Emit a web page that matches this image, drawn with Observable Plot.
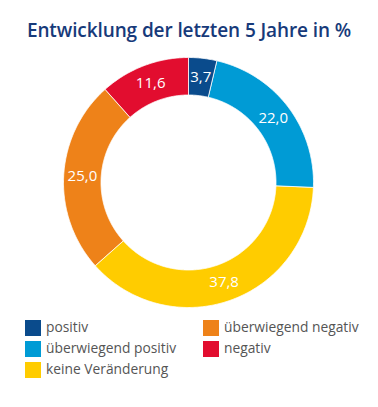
<!DOCTYPE html>
<html><head><meta charset="utf-8">
<script src="https://cdn.jsdelivr.net/npm/d3@7"></script>
<script src="https://cdn.jsdelivr.net/npm/@observablehq/plot@0.6"></script>
<style>
body{margin:0;background:#fff;}
#wrap{position:relative;width:378px;height:407px;font-family:"Open Sans",sans-serif;overflow:hidden;}
#title{position:absolute;left:0;width:378px;top:17px;text-align:center;color:#173a7a;font-size:19px;font-weight:600;white-space:nowrap;letter-spacing:-0.1px;}
#chart{position:absolute;left:0;top:50px;}
.sw{position:absolute;width:16px;height:16px;}
.lt{position:absolute;font-size:13.8px;color:#555;white-space:nowrap;line-height:16px;}
</style></head>
<body><div id="wrap"><div id="title">Entwicklung der letzten 5 Jahre in %</div><div id="chart"></div></div>
<script>
const categories = ["positiv","überwiegend positiv","keine Veränderung","überwiegend negativ","negativ"];
const values = [3.7, 22.0, 37.8, 25.0, 11.6];
const valueLabels = ["3,7","22,0","37,8","25,0","11,6"];
const colors = ["#0a4b8c","#009bd5","#ffcc00","#ee8219","#e20d2f"];

const total = d3.sum(values);
const rOut = 1, rIn = 0.7, rLab = 0.85;
const pts = [], labs = [];
let acc = 0;
values.forEach((v, i) => {
  const a0 = acc / total * 2 * Math.PI, a1 = (acc + v) / total * 2 * Math.PI;
  acc += v;
  const n = Math.max(4, Math.ceil((a1 - a0) / 0.01));
  for (let k = 0; k <= n; k++) { const a = a0 + (a1 - a0) * k / n; pts.push({cat: categories[i], x: rOut * Math.sin(a), y: rOut * Math.cos(a)}); }
  for (let k = n; k >= 0; k--) { const a = a0 + (a1 - a0) * k / n; pts.push({cat: categories[i], x: rIn * Math.sin(a), y: rIn * Math.cos(a)}); }
  const m = (a0 + a1) / 2;
  labs.push({t: valueLabels[i], x: rLab * Math.sin(m), y: rLab * Math.cos(m)});
});

const R = 125;
const chart = Plot.plot({
  width: 378, height: 265,
  margin: 0,
  x: {domain: [-188 / R, 190 / R], axis: null},
  y: {domain: [-133 / R, 132 / R], axis: null},
  color: {domain: categories, range: colors},
  style: {background: "transparent"},
  marks: [
    Plot.line(pts, {x: "x", y: "y", z: "cat", fill: "cat", stroke: "white", strokeWidth: 0.8, curve: "linear-closed"}),
    Plot.text(labs, {x: "x", y: "y", text: "t", fill: "white", fontSize: 15, fontFamily: "Open Sans", fontWeight: 400})
  ]
});
document.getElementById("chart").appendChild(chart);

const wrap = document.getElementById("wrap");
categories.forEach((c, i) => {
  const col = i < 3 ? 0 : 1, row = i < 3 ? i : i - 3;
  const x = col ? 203 : 25, y = 320 + row * 21;
  const s = document.createElement("div"); s.className = "sw";
  s.style.left = x + "px"; s.style.top = y + "px"; s.style.background = colors[i];
  const t = document.createElement("div"); t.className = "lt";
  t.style.left = (x + 21) + "px"; t.style.top = (y - 1) + "px"; t.textContent = c;
  wrap.appendChild(s); wrap.appendChild(t);
});
</script></body></html>
